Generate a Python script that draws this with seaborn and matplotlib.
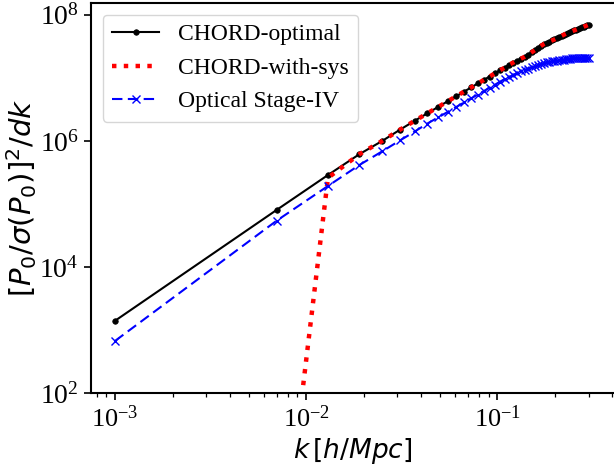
import numpy as np
import pandas as pd
import matplotlib
matplotlib.use("Agg")
import matplotlib.pyplot as plt
import matplotlib.ticker as mticker
import seaborn as sns

plt.rcParams['font.family'] = ['serif']
plt.rcParams['font.serif'] = ['Liberation Serif', 'DejaVu Serif']
plt.rcParams['mathtext.fontset'] = 'dejavusans'

k = [0.001, 0.007, 0.013, 0.019, 0.025, 0.031, 0.037, 0.043, 0.049, 0.055,
     0.061, 0.067, 0.073, 0.079, 0.085, 0.091, 0.097, 0.103, 0.109, 0.115,
     0.121, 0.127, 0.133, 0.139, 0.145, 0.151, 0.157, 0.163, 0.169, 0.175,
     0.181, 0.187, 0.193, 0.199, 0.205, 0.211, 0.217, 0.223, 0.229, 0.235,
     0.241, 0.247, 0.253, 0.259, 0.265, 0.271, 0.277, 0.283, 0.289, 0.295,
     0.301]

chord_optimal = [1.41e3, 8.04e4, 2.88e5, 6.17e5, 1.00e6, 1.51e6, 2.09e6, 2.73e6, 3.45e6, 4.25e6,
                 5.11e6, 6.05e6, 7.05e6, 8.15e6, 9.25e6, 1.047e7, 1.175e7, 1.309e7, 1.445e7, 1.614e7,
                 1.742e7, 1.875e7, 2.014e7, 2.153e7, 2.323e7, 2.535e7, 2.742e7, 2.965e7, 3.199e7, 3.428e7,
                 3.614e7, 3.758e7, 3.908e7, 4.055e7, 4.236e7, 4.426e7, 4.624e7, 4.831e7, 5.023e7, 5.176e7,
                 5.346e7, 5.508e7, 5.662e7, 5.821e7, 5.984e7, 6.138e7, 6.281e7, 6.457e7, 6.622e7, 6.776e7,
                 6.950e7]

chord_with_sys = [1.0e-3, 4.0e-2, 2.6e5, 6.17e5, 1.00e6, 1.51e6, 2.09e6, 2.73e6, 3.45e6, 4.25e6,
                  5.11e6, 6.05e6, 7.05e6, 8.15e6, 9.25e6, 1.047e7, 1.175e7, 1.309e7, 1.445e7, 1.614e7,
                  1.742e7, 1.875e7, 2.014e7, 2.153e7, 2.323e7, 2.535e7, 2.742e7, 2.965e7, 3.199e7, 3.428e7,
                  3.614e7, 3.758e7, 3.908e7, 4.055e7, 4.236e7, 4.426e7, 4.624e7, 4.831e7, 5.023e7, 5.176e7,
                  5.346e7, 5.508e7, 5.662e7, 5.821e7, 5.984e7, 6.138e7, 6.281e7, 6.457e7, 6.622e7, 6.776e7,
                  6.950e7]

optical_stage4 = [6.76e2, 5.43e4, 1.93e5, 4.16e5, 6.84e5, 1.02e6, 1.41e6, 1.88e6, 2.36e6, 2.88e6,
                  3.45e6, 4.07e6, 4.72e6, 5.43e6, 6.17e6, 6.97e6, 7.76e6, 8.65e6, 9.51e6, 1.023e7,
                  1.107e7, 1.191e7, 1.271e7, 1.334e7, 1.400e7, 1.466e7, 1.528e7, 1.585e7, 1.644e7, 1.702e7,
                  1.762e7, 1.791e7, 1.824e7, 1.849e7, 1.879e7, 1.905e7, 1.928e7, 1.950e7, 1.968e7, 1.986e7,
                  2.009e7, 2.028e7, 2.037e7, 2.04e7, 2.05e7, 2.05e7, 2.06e7, 2.06e7, 2.06e7, 2.06e7,
                  2.05e7]

labels = ["CHORD-optimal", "CHORD-with-sys", "Optical Stage-IV"]

fig = plt.figure(figsize=(6.14, 4.66), dpi=100)
ax = fig.add_axes([90.7 / 614, (466 - 393.3) / 466, (615.7 - 90.7) / 614, (393.3 - 2.7) / 466])

sns.lineplot(x=k, y=chord_optimal, ax=ax, color='black', linestyle='-', linewidth=1.5,
             marker='.', markersize=8, markeredgecolor='black', markeredgewidth=0.5,
             label=labels[0], sort=False, estimator=None)
sns.lineplot(x=k, y=chord_with_sys, ax=ax, color='red', linestyle=':', linewidth=3.2,
             label=labels[1], sort=False, estimator=None)
sns.lineplot(x=k, y=optical_stage4, ax=ax, color='blue', linestyle=(0, (5.0, 2.6)), linewidth=1.5,
             marker='x', markersize=6, markeredgecolor='blue', markeredgewidth=1.0,
             label=labels[2], sort=False, estimator=None)

ax.set_xscale('log')
ax.set_yscale('log')
ax.set_xlim(7.46e-4, 0.416)
ax.set_ylim(1e2, 1.55e8)
ax.set_yticks([1e2, 1e4, 1e6, 1e8])
ax.yaxis.set_minor_locator(mticker.NullLocator())

for s in ax.spines.values():
    s.set_linewidth(1.5)
ax.tick_params(axis='x', which='major', labelsize=19, length=5, width=1.2)
ax.tick_params(axis='y', which='major', labelsize=20, length=5, width=1.2)
ax.tick_params(axis='both', which='minor', length=3, width=0.9)

ax.set_xlabel(r'$k\,[h/Mpc]$', fontsize=19, labelpad=3)
ax.set_ylabel(r'$[P_0/\sigma(P_0)]^2/dk$', fontsize=21, labelpad=0)

ax.legend(loc='upper left', fontsize=17, handlelength=2.0, borderaxespad=0.5)

fig.savefig('out.png', dpi=100)
